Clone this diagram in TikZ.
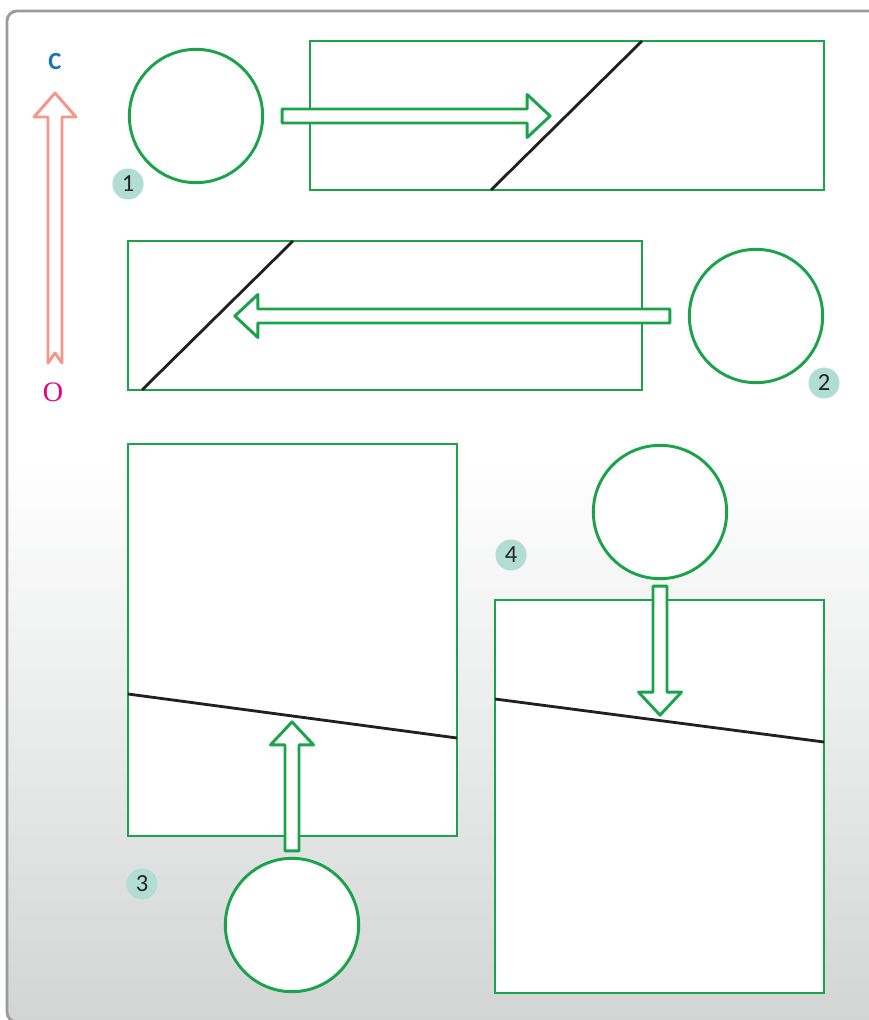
\documentclass[tikz,border=0pt]{standalone}
\usepackage{fontspec}
\setmainfont{Carlito}
\newfontfamily\letterfont{Liberation Serif}
\usetikzlibrary{positioning,calc}

\definecolor{rimgreen}{RGB}{27,163,74}
\definecolor{salmon}{RGB}{244,150,138}
\definecolor{tagteal}{RGB}{178,221,210}
\definecolor{framegray}{RGB}{155,155,155}
\definecolor{bggray}{RGB}{211,213,213}
\definecolor{capblue}{RGB}{22,115,186}
\definecolor{omagenta}{RGB}{230,0,126}
\definecolor{inkline}{RGB}{35,31,32}

% hollow arrow: style, tail point, angle, length
\newcommand{\hollowarrow}[4]{%
    \draw[#1, shift={(#2)}, rotate=#3]
        (0,-7) -- ({#4-23},-7) -- ({#4-23},-21.5) -- (#4,0)
        -- ({#4-23},21.5) -- ({#4-23},7) -- (0,7) -- cycle;
}

\begin{document}
\begin{tikzpicture}[x=0.03cm, y=-0.03cm,
        slab/.style={draw=rimgreen, fill=white, line width=2.5pt},
        bulb/.style={circle, draw=rimgreen, fill=white, line width=2.5pt, minimum size=4cm, inner sep=0pt},
        fatarrow/.style={draw=rimgreen, fill=white, line width=2.5pt, line join=round},
        border/.style={draw=inkline, line width=2.4pt},
        tag/.style={circle, fill=tagteal, minimum size=0.93cm, inner sep=0pt, text=black!85, font=\fontsize{21}{24}\selectfont}]

        \useasboundingbox (0,0) rectangle (868,1020);

        %----- FRAME AND BACKGROUND -----
        \begin{scope}
            \clip[rounded corners=0.3cm] (7,11) rectangle (880,1022);
            \fill[white] (0,0) rectangle (880,1030);
            \shade[top color=white, bottom color=bggray] (0,460) rectangle (880,1022);
        \end{scope}
        \draw[framegray, line width=2.4pt, rounded corners=0.3cm] (7,11) rectangle (880,1022);

        %----- SLABS WITH BOUNDARY LINES -----
        \draw[slab] (310,41) rectangle (824,190);
        \draw[border] (491,190) -- (642,41);

        \draw[slab] (128,241) rectangle (642,390);
        \draw[border] (142,390) -- (293,241);

        \draw[slab] (128,444) rectangle (457,836);
        \draw[border] (128,694) -- (457,738);

        \draw[slab] (495,600) rectangle (824,993);
        \draw[border] (495,699) -- (824,742);

        %----- CIRCLES -----
        \node[bulb] (src1) at (196,116) {};
        \node[bulb] (src2) at (756,316) {};
        \node[bulb] (src3) at (292,925) {};
        \node[bulb] (src4) at (660,512) {};

        %----- ARROWS -----
        \hollowarrow{fatarrow}{$(src1.east)+(18,0)$}{0}{268}
        \hollowarrow{fatarrow}{$(src2.west)+(-18,0)$}{180}{435}
        \hollowarrow{fatarrow}{$(src3.north)+(0,-6)$}{90}{129}
        \hollowarrow{fatarrow}{$(src4.south)+(0,6)$}{-90}{129}

        %----- NUMBER TAGS -----
        \node[tag] (tag1) at (128,184) {1};
        \node[tag] (tag2) at (824,383) {2};
        \node[tag] (tag3) at (142,884) {3};
        \node[tag] (tag4) at (511,555) {4};

        %----- O TO C ARROW -----
        \node[text=capblue, font=\fontsize{21}{24}\selectfont\bfseries] (lblC) at (55,62) {C};
        \node[text=omagenta, font=\letterfont\fontsize{24}{26}\selectfont] (lblO) at (53,392) {O};
        \draw[salmon, fill=white, line width=2.5pt, line join=round]
            (48,363) -- (48,117) -- (34,117) -- (55,93) -- (76,117)
            -- (62,117) -- (62,363) -- (55,353) -- cycle;

\end{tikzpicture}
\end{document}
